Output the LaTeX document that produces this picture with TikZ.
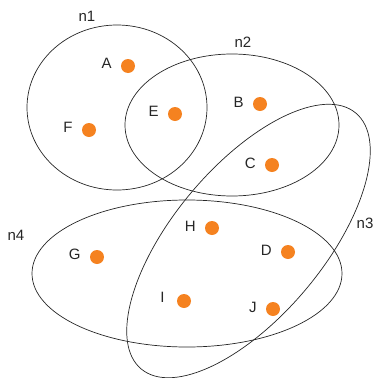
\documentclass[tikz,border=0pt]{standalone}
\usepackage{fontspec}
\setmainfont{Liberation Sans}
\usetikzlibrary{positioning}
\definecolor{dotorange}{RGB}{245,130,32}
\tikzset{
    elem/.style={circle, fill=dotorange, minimum size=14pt, inner sep=0pt},
    elem name/.style={font=\fontsize{15}{18}\selectfont, text=black!85, inner sep=0pt},
    set/.style={draw=black!85, line width=0.7pt},
    set name/.style={font=\fontsize{15}{18}\selectfont, text=black!85, inner sep=0pt}
}

\begin{document}
\begin{tikzpicture}[x=1pt, y=-1pt]
    \useasboundingbox (0,0) rectangle (375,378);

    % Mengen
    \draw[set] (117,107.5) ellipse [x radius=90pt, y radius=82.5pt];
    \draw[set] (232,125) ellipse [x radius=107pt, y radius=71pt];
    \draw[set] (248.5,241) ellipse [x radius=167pt, y radius=75pt, rotate=50];
    \draw[set] (187,273.5) ellipse [x radius=155pt, y radius=73.5pt];

    % Namen der Mengen
    \node[set name] (n1) at (87,16) {n1};
    \node[set name] (n2) at (243,42) {n2};
    \node[set name] (n3) at (365,223) {n3};
    \node[set name] (n4) at (16,235) {n4};

    % Elemente
    \node[elem] (A) at (128,66) {};
    \node[elem] (E) at (175,114) {};
    \node[elem] (F) at (89,130) {};
    \node[elem] (B) at (260,104) {};
    \node[elem] (C) at (272,165) {};
    \node[elem] (H) at (212,228) {};
    \node[elem] (G) at (97,257) {};
    \node[elem] (D) at (288,252) {};
    \node[elem] (I) at (184,301) {};
    \node[elem] (J) at (273,309) {};

    % Beschriftungen
    \node[elem name, left=9pt of A, yshift=3pt] (A-name) {A};
    \node[elem name, left=9pt of E, yshift=3pt] (E-name) {E};
    \node[elem name, left=9pt of F, yshift=3pt] (F-name) {F};
    \node[elem name, left=9pt of B, yshift=2pt] (B-name) {B};
    \node[elem name, left=9pt of C, yshift=2pt] (C-name) {C};
    \node[elem name, left=9pt of H, yshift=2pt] (H-name) {H};
    \node[elem name, left=9pt of G, yshift=3pt] (G-name) {G};
    \node[elem name, left=9pt of D, yshift=2pt] (D-name) {D};
    \node[elem name, left=12pt of I, yshift=4pt] (I-name) {I};
    \node[elem name, left=9pt of J, yshift=2pt] (J-name) {J};
\end{tikzpicture}
\end{document}
